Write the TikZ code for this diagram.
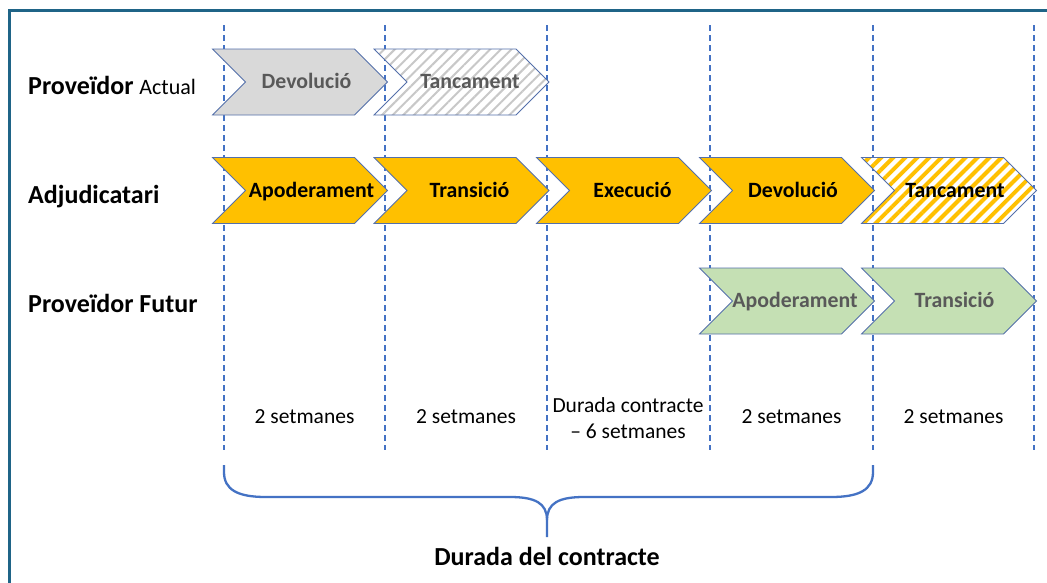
\documentclass[tikz,border=0pt]{standalone}
\usepackage{fontspec}
\setmainfont{Carlito}
\usetikzlibrary{shapes.symbols,patterns.meta}
\definecolor{frameteal}{RGB}{31,100,135}
\definecolor{dashblue}{RGB}{68,114,196}
\definecolor{chevstroke}{RGB}{84,112,170}
\definecolor{grayfill}{RGB}{217,217,217}
\definecolor{graytext}{RGB}{89,89,89}
\definecolor{yellowfill}{RGB}{255,192,0}
\definecolor{greenfill}{RGB}{197,224,180}
\definecolor{hatchgray}{RGB}{200,200,200}
\begin{document}
\begin{tikzpicture}[x=1pt,y=-1pt,
  chev/.style={signal, signal from=west, signal to=east, signal pointer angle=90,
    minimum width=175pt, minimum height=66pt, inner sep=0pt, draw=chevstroke,
    line width=0.8pt, text height=13.5pt, text depth=0pt},
  grayc/.style={chev, fill=grayfill},
  grayhatch/.style={chev, preaction={fill=white},
    pattern={Lines[angle=45,distance=7.5pt,line width=2pt]}, pattern color=hatchgray},
  yellowc/.style={chev, fill=yellowfill},
  yellowhatch/.style={chev, preaction={fill=white},
    pattern={Lines[angle=45,distance=8.5pt,line width=4pt]}, pattern color=yellowfill},
  greenc/.style={chev, fill=greenfill},
  ctext/.style={inner sep=0pt, font=\fontsize{21.8}{26}\selectfont\bfseries,
    text height=13.8pt, text depth=0pt},
  darkt/.style={ctext, text=black},
  grayt/.style={ctext, text=graytext},
  rowlabel/.style={anchor=base west, inner sep=0pt, font=\fontsize{26}{30}\selectfont\bfseries},
  weeks/.style={anchor=base, inner sep=0pt, font=\fontsize{21.5}{26}\selectfont},
  divider/.style={dashblue, line width=1.3pt, dash pattern=on 6pt off 4pt},
  bracestyle/.style={dashblue, line width=2.3pt}
]
\useasboundingbox (0,0) rectangle (1047,582);
\fill[white] (0,0) rectangle (1047,582);
% frame
\draw[frameteal, line width=3pt] (9.5,600) -- (9.5,10.5) -- (1060,10.5);
% dividers
\foreach \n/\x in {d0/224,d1/385,d2/547,d3/710,d4/873,d5/1034}{
  \coordinate (\n top) at (\x,25);
  \coordinate (\n bot) at (\x,450);
  \draw[divider] (\n top) -- (\n bot);
}
% row labels
\node[rowlabel] (lab1) at (28,94) {Proveïdor {\mdseries\fontsize{22}{26}\selectfont Actual}};
\node[rowlabel] (lab2) at (28,203) {Adjudicatari};
\node[rowlabel] (lab3) at (28,312) {Proveïdor Futur};
% row 1
\node[grayc] (a1) at (300,82) {};
\node[grayhatch] (a2) at (461.5,82) {};
% row 2
\node[yellowc] (b1) at (300,190.5) {};
\node[yellowc] (b2) at (461.5,190.5) {};
\node[yellowc] (b3) at (624,190.5) {};
\node[yellowc] (b4) at (787,190.5) {};
\node[yellowhatch] (b5) at (949,190.5) {};
% row 3
\node[greenc] (c1) at (787,301) {};
\node[greenc] (c2) at (949,301) {};
% chevron texts
\node[grayt] (ta1) at ([xshift=6.5]a1.center) {Devolució};
\node[grayt] (ta2) at ([xshift=8.5]a2.center) {Tancament};
\node[darkt] (tb1) at ([xshift=11.5]b1.center) {Apoderament};
\node[darkt] (tb2) at ([xshift=8]b2.center) {Transició};
\node[darkt] (tb3) at ([xshift=8.5]b3.center) {Execució};
\node[darkt] (tb4) at ([xshift=6]b4.center) {Devolució};
\node[darkt] (tb5) at ([xshift=6]b5.center) {Tancament};
\node[grayt] (tc1) at ([xshift=8]c1.center) {Apoderament};
\node[grayt] (tc2) at ([xshift=5.5]c2.center) {Transició};
% durations
\node[weeks] (w1) at (304.5,423) {2 setmanes};
\node[weeks] (w2) at (466,423) {2 setmanes};
\node[weeks, align=center, font=\fontsize{21.5}{26}\selectfont] (w3) at (628,438) {Durada contracte\\– 6 setmanes};
\node[weeks] (w4) at (791.5,423) {2 setmanes};
\node[weeks] (w5) at (953.5,423) {2 setmanes};
% brace
\coordinate (bl) at (224,465);
\coordinate (br) at (873,465);
\coordinate (bm) at (547,520);
\coordinate (btip) at (547,537);
\draw[bracestyle] (bl) -- (224,472) .. controls (224,490) and (238,497) .. (266,497)
  -- (510,497) .. controls (535,497) and (547,503) .. (bm) -- (btip);
\draw[bracestyle] (br) -- (873,472) .. controls (873,490) and (859,497) .. (831,497)
  -- (584,497) .. controls (559,497) and (547,503) .. (bm);
\node[anchor=base, inner sep=0pt, font=\fontsize{26}{30}\selectfont\bfseries] (total) at (547,565) {Durada del contracte};
\end{tikzpicture}
\end{document}
